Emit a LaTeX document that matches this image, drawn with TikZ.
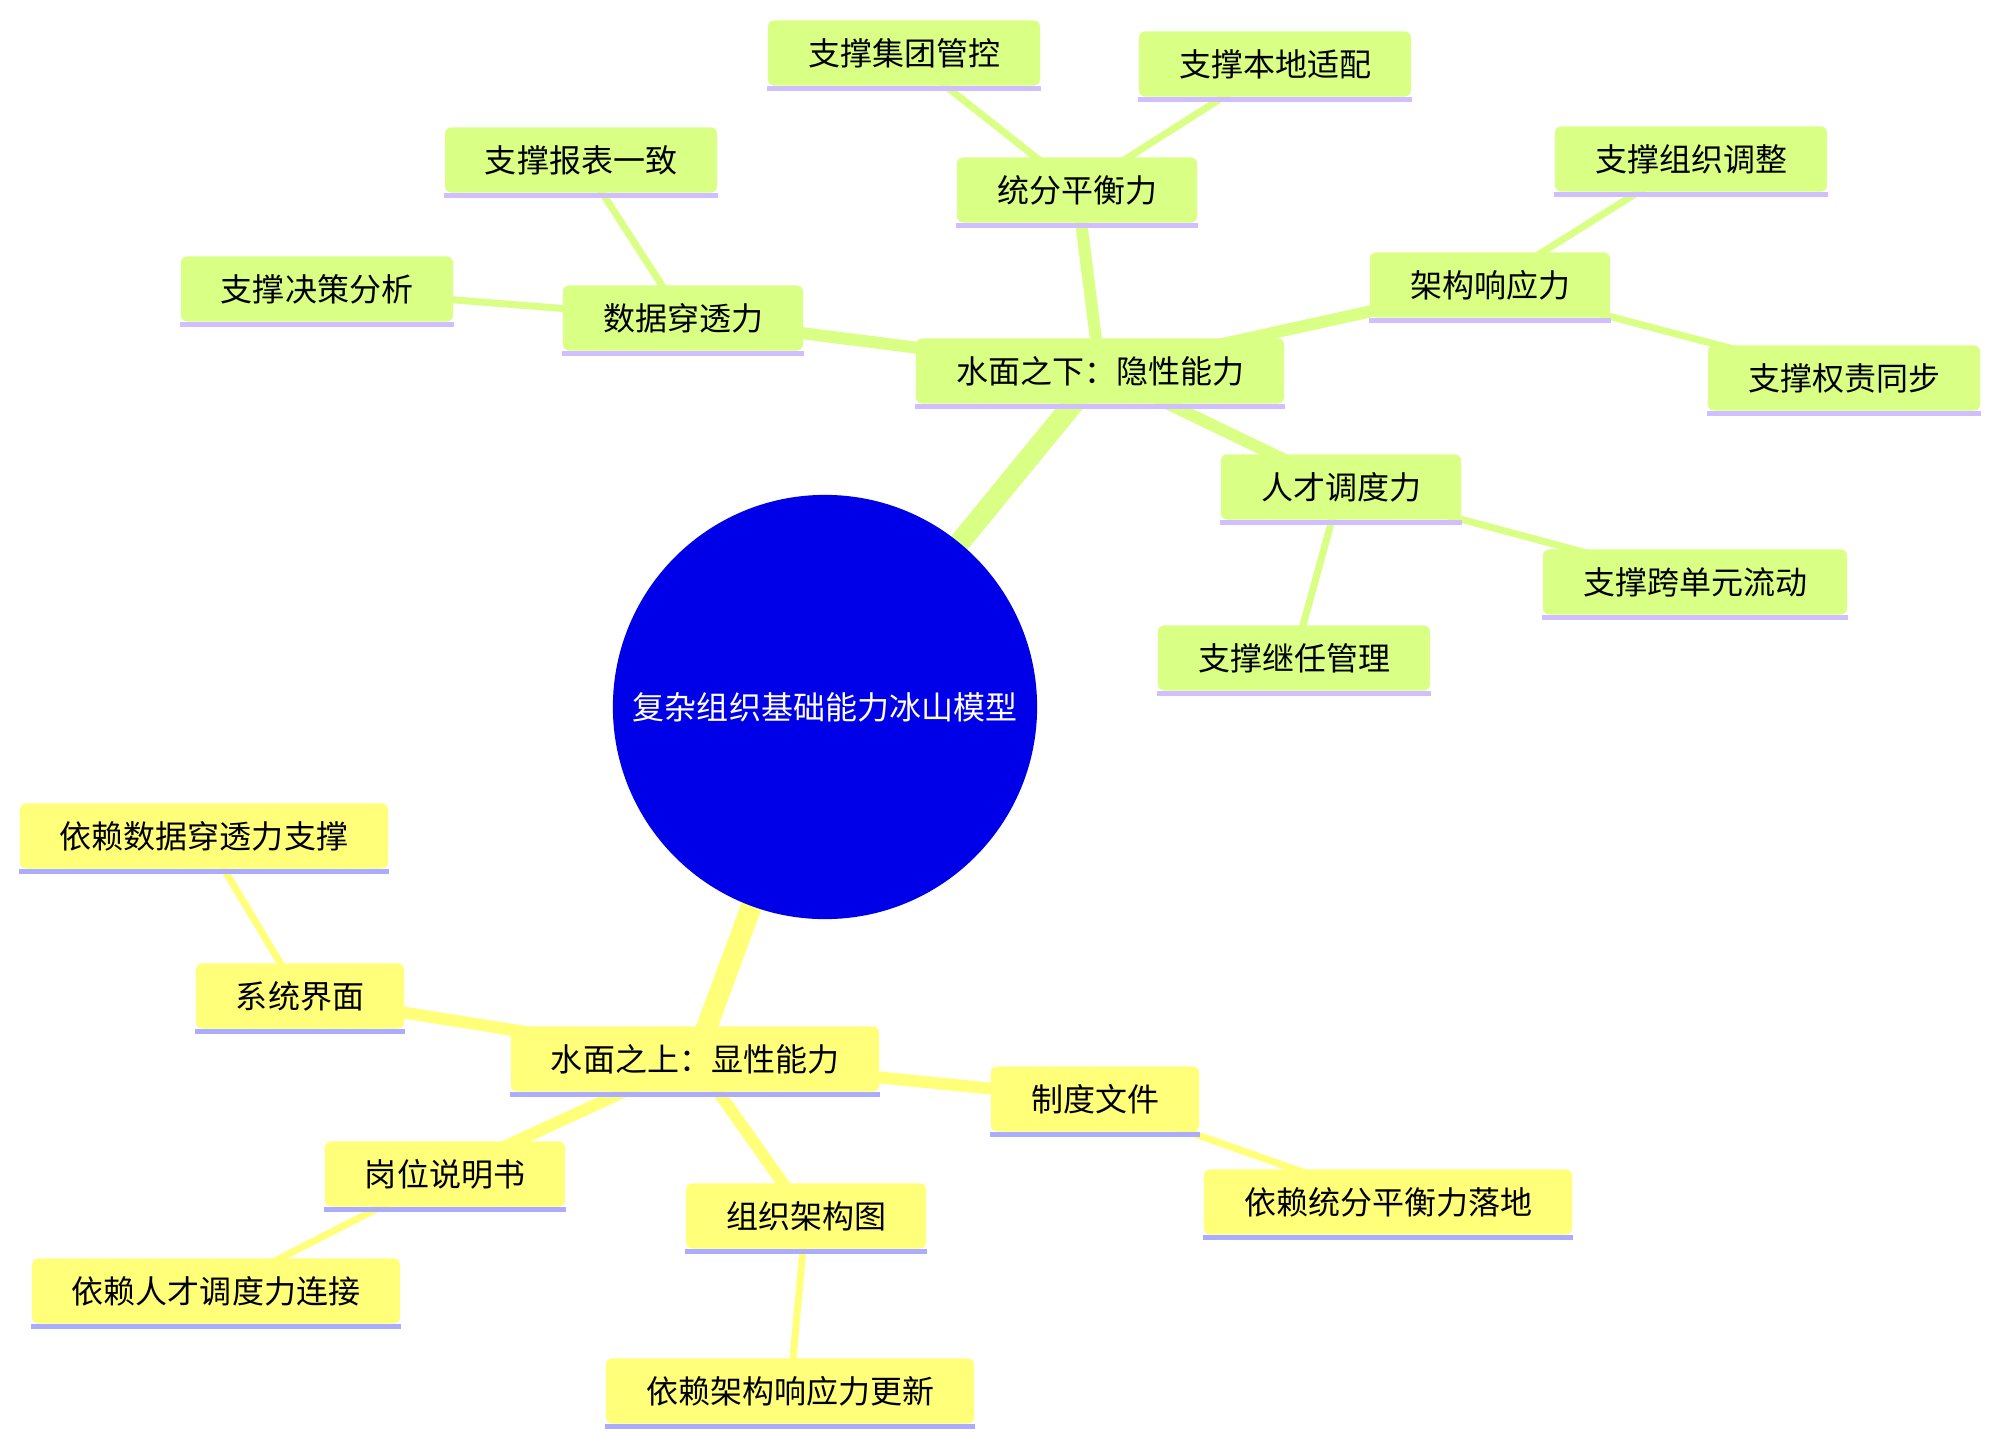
\documentclass[tikz,border=0pt]{standalone}
\usepackage{fontspec}
\usepackage{xcolor}
\usetikzlibrary{backgrounds}
\newfontfamily\cjk{Noto Sans CJK SC}
\definecolor{rootblue}{HTML}{0000E8}
\definecolor{grnfill}{HTML}{D9FF85}
\definecolor{grnline}{HTML}{D1BEFF}
\definecolor{yelfill}{HTML}{FFFF7A}
\definecolor{yelline}{HTML}{ACACFF}

\begin{document}
\begin{tikzpicture}[
    x=0.01cm, y=-0.01cm,
    root/.style={circle, fill=rootblue, text=white, minimum size=4.24cm, inner sep=0pt, font=\cjk\fontsize{9.1pt}{11pt}\selectfont},
    box/.style={rectangle, rounded corners=0.06cm, minimum height=0.65cm, inner xsep=0.4cm, inner ysep=0pt, font=\cjk\fontsize{9.1pt}{11pt}\selectfont},
    gbox/.style={box, fill=grnfill},
    ybox/.style={box, fill=yelfill},
    trunk/.style={line width=0.21cm},
    branch/.style={line width=0.12cm},
    twig/.style={line width=0.07cm}
]
\useasboundingbox (0,0) rectangle (1999,1445);

\node[root] at (825,707) (root) {复杂组织基础能力冰山模型};

% under the water
\node[gbox] at (1100,371) (below) {水面之下：隐性能力};
\node[gbox] at (1077,190) (tongfen) {统分平衡力};
\node[gbox] at (904,53) (jituan) {支撑集团管控};
\node[gbox] at (1275,64) (bendi) {支撑本地适配};
\node[gbox] at (683,318) (shuju) {数据穿透力};
\node[gbox] at (581,160) (baobiao) {支撑报表一致};
\node[gbox] at (317,289) (juece) {支撑决策分析};
\node[gbox] at (1490,285) (jiagou) {架构响应力};
\node[gbox] at (1691,159) (tiaozheng) {支撑组织调整};
\node[gbox] at (1844,378) (quanze) {支撑权责同步};
\node[gbox] at (1341,487) (rencai) {人才调度力};
\node[gbox] at (1695,582) (liudong) {支撑跨单元流动};
\node[gbox] at (1294,658) (jiren) {支撑继任管理};

% above the water
\node[ybox] at (695,1059) (above) {水面之上：显性能力};
\node[ybox] at (300,996) (xitong) {系统界面};
\node[ybox] at (204,836) (dep1) {依赖数据穿透力支撑};
\node[ybox] at (445,1174) (gangwei) {岗位说明书};
\node[ybox] at (216,1291) (dep2) {依赖人才调度力连接};
\node[ybox] at (806,1216) (jiagoutu) {组织架构图};
\node[ybox] at (790,1391) (dep3) {依赖架构响应力更新};
\node[ybox] at (1095,1099) (zhidu) {制度文件};
\node[ybox] at (1388,1202) (dep4) {依赖统分平衡力落地};

\foreach \n in {below,tongfen,jituan,bendi,shuju,baobiao,juece,jiagou,tiaozheng,quanze,rencai,liudong,jiren}
    \fill[grnline] (\n.south west) rectangle ([yshift=-0.05cm]\n.south east);
\foreach \n in {above,xitong,dep1,gangwei,dep2,jiagoutu,dep3,zhidu,dep4}
    \fill[yelline] (\n.south west) rectangle ([yshift=-0.05cm]\n.south east);

\begin{scope}[on background layer]
\draw[trunk, grnfill] (root.center) -- (below.center);
\draw[branch, grnfill] (below.center) -- (tongfen.center);
\draw[branch, grnfill] (below.center) -- (shuju.center);
\draw[branch, grnfill] (below.center) -- (jiagou.center);
\draw[branch, grnfill] (below.center) -- (rencai.center);
\draw[twig, grnfill] (tongfen.center) -- (jituan.center);
\draw[twig, grnfill] (tongfen.center) -- (bendi.center);
\draw[twig, grnfill] (shuju.center) -- (baobiao.center);
\draw[twig, grnfill] (shuju.center) -- (juece.center);
\draw[twig, grnfill] (jiagou.center) -- (tiaozheng.center);
\draw[twig, grnfill] (jiagou.center) -- (quanze.center);
\draw[twig, grnfill] (rencai.center) -- (liudong.center);
\draw[twig, grnfill] (rencai.center) -- (jiren.center);

\draw[trunk, yelfill] (root.center) -- (above.center);
\draw[branch, yelfill] (above.center) -- (xitong.center);
\draw[branch, yelfill] (above.center) -- (gangwei.center);
\draw[branch, yelfill] (above.center) -- (jiagoutu.center);
\draw[branch, yelfill] (above.center) -- (zhidu.center);
\draw[twig, yelfill] (xitong.center) -- (dep1.center);
\draw[twig, yelfill] (gangwei.center) -- (dep2.center);
\draw[twig, yelfill] (jiagoutu.center) -- (dep3.center);
\draw[twig, yelfill] (zhidu.center) -- (dep4.center);
\end{scope}
\end{tikzpicture}
\end{document}
